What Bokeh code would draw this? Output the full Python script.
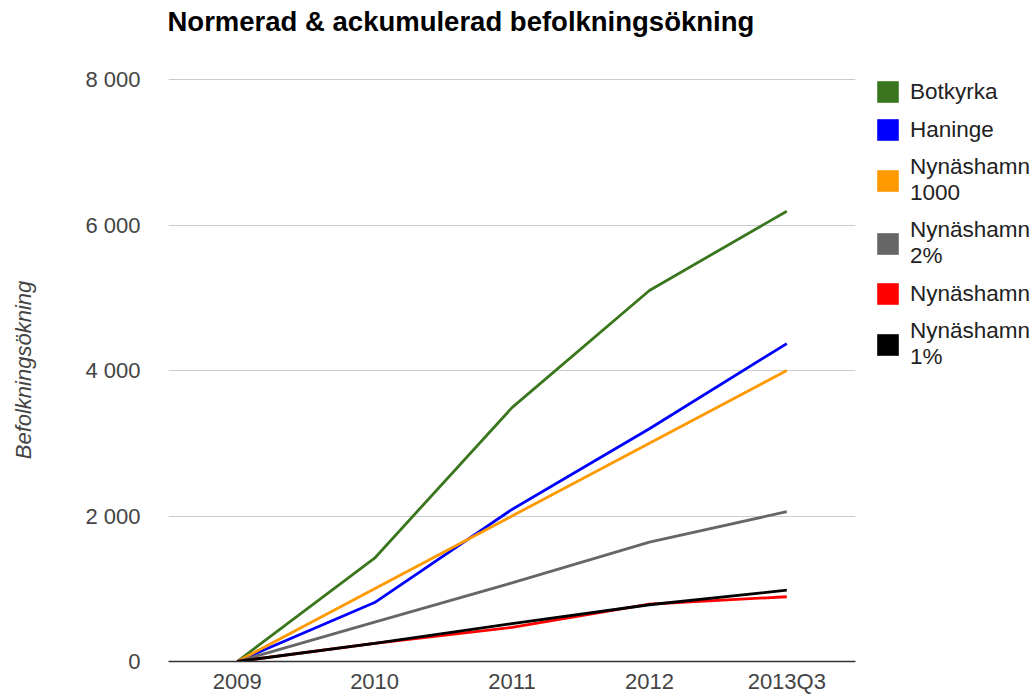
from bokeh.plotting import figure
from bokeh.layouts import row
from bokeh.models import Legend, LegendItem, CustomJSTickFormatter, FixedTicker, Range1d
from bokeh.embed import file_html
from bokeh.resources import INLINE

years = ["2009", "2010", "2011", "2012", "2013Q3"]
botkyrka = [0, 1420, 3490, 5100, 6190]
haninge = [0, 810, 2090, 3200, 4370]
nyn1000 = [0, 1000, 2000, 3000, 4000]
nyn2 = [0, 540, 1080, 1640, 2060]
nyn = [0, 250, 470, 790, 890]
nyn1 = [0, 250, 520, 780, 980]

series = [
    ("Botkyrka", botkyrka, "#3a761d"),
    ("Haninge", haninge, "#0000ff"),
    ("Nynäshamn\n1000", nyn1000, "#ff9900"),
    ("Nynäshamn\n2%", nyn2, "#666666"),
    ("Nynäshamn", nyn, "#ff0000"),
    ("Nynäshamn\n1%", nyn1, "#000000"),
]

FONT = "Liberation Sans"
H = 696
MAIN_W, LEG_W = 868, 164
ML, MR, MT, MB = 168, 13, 75, 35

p = figure(x_range=years, y_range=Range1d(0, 8014), output_backend="svg",
           toolbar_location=None, width=MAIN_W, height=H,
           min_border_left=ML, min_border_right=MR,
           min_border_top=MT, min_border_bottom=MB,
           title="Normerad & ackumulerad befolkningsökning\n\u00a0")
p.outline_line_color = None
p.background_fill_color = "white"
p.border_fill_color = "white"

p.title.text_font = FONT
p.title.text_font_size = "27.5px"
p.title.text_font_style = "bold"
p.title.text_color = "#000000"
p.title.text_line_height = 1.225
p.title.align = "left"
p.title.offset = -1
p.title.standoff = 7

for name, vals, col in series:
    p.line(years, vals, line_color=col, line_width=2.8)

# y axis
p.yaxis.ticker = FixedTicker(ticks=[0, 2000, 4000, 6000, 8000])
p.yaxis.formatter = CustomJSTickFormatter(code="""
return tick.toString().replace(/\\B(?=(\\d{3})+(?!\\d))/g, '\u00a0');
""")
p.yaxis.axis_line_color = None
p.yaxis.major_tick_line_color = None
p.yaxis.minor_tick_line_color = None
p.yaxis.major_tick_out = 0
p.yaxis.major_tick_in = 0
p.yaxis.minor_tick_out = 0
p.yaxis.minor_tick_in = 0
p.yaxis.major_label_text_font = FONT
p.yaxis.major_label_text_font_size = "22px"
p.yaxis.major_label_text_color = "#444444"
p.yaxis.major_label_standoff = 28
p.yaxis.axis_label = "Befolkningsökning"
p.yaxis.axis_label_text_font = FONT
p.yaxis.axis_label_text_font_size = "22px"
p.yaxis.axis_label_text_font_style = "italic"
p.yaxis.axis_label_text_color = "#444444"
p.yaxis.axis_label_standoff = 46

# x axis
p.xaxis.axis_line_color = "#333333"
p.xaxis.axis_line_width = 1.5
p.xaxis.major_tick_line_color = None
p.xaxis.minor_tick_line_color = None
p.xaxis.major_tick_out = 0
p.xaxis.major_tick_in = 0
p.xaxis.minor_tick_out = 0
p.xaxis.minor_tick_in = 0
p.xaxis.major_label_text_font = FONT
p.xaxis.major_label_text_font_size = "22px"
p.xaxis.major_label_text_color = "#444444"
p.xaxis.major_label_standoff = 7

p.xgrid.grid_line_color = None
p.ygrid.grid_line_color = "#cccccc"
p.ygrid.grid_line_width = 1

# legend figure
lf = figure(x_range=years, y_range=Range1d(0, 8014), output_backend="svg",
            toolbar_location=None, width=LEG_W, height=H,
            min_border_left=6, min_border_right=0,
            min_border_top=73, min_border_bottom=0)
lf.axis.visible = False
lf.grid.visible = False
lf.outline_line_color = None
lf.background_fill_color = "white"
lf.border_fill_color = "white"

items = []
for name, vals, col in series:
    sq = lf.rect(x=years, y=vals, width=0, height=0, fill_color=col, line_color=None)
    items.append(LegendItem(label=name, renderers=[sq]))

legend = Legend(items=items, location="top_left")
legend.label_text_font = FONT
legend.label_text_font_size = "22.5px"
legend.label_text_color = "#222222"
legend.label_text_line_height = 1.3
legend.glyph_width = 27
legend.glyph_height = 27
legend.label_standoff = 9
legend.spacing = 11
legend.padding = 0
legend.margin = 0
legend.border_line_color = None
legend.background_fill_alpha = 0
legend.label_height = 22
lf.add_layout(legend)

layout = row(p, lf, spacing=0)
open("out.html", "w").write(file_html(layout, INLINE))
